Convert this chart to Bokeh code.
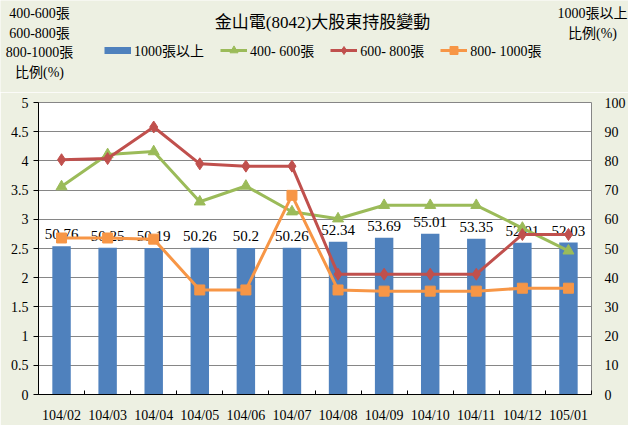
from bokeh.plotting import figure
from bokeh.models import (Range1d, LinearAxis, FixedTicker, NumeralTickFormatter,
                          Label, Legend, LegendItem)
from bokeh.core.properties import value
from bokeh.embed import file_html
from bokeh.resources import INLINE

# ---- data ----
months = ["104/02", "104/03", "104/04", "104/05", "104/06", "104/07",
          "104/08", "104/09", "104/10", "104/11", "104/12", "105/01"]
pct_1000 = [50.76, 50.25, 50.19, 50.26, 50.2, 50.26, 52.34, 53.69, 55.01, 53.35, 52.01, 52.03]
pct_1000_labels = ["50.76", "50.25", "50.19", "50.26", "50.2", "50.26",
                   "52.34", "53.69", "55.01", "53.35", "52.01", "52.03"]
pct_400_600 = [3.56, 4.11, 4.16, 3.30, 3.57, 3.13, 3.01, 3.24, 3.24, 3.24, 2.85, 2.46]
pct_600_800 = [4.02, 4.04, 4.58, 3.95, 3.91, 3.91, 2.06, 2.06, 2.06, 2.06, 2.74, 2.74]
pct_800_1000 = [2.68, 2.68, 2.66, 1.79, 1.79, 3.41, 1.79, 1.77, 1.77, 1.77, 1.82, 1.82]
left_ticks = [0, 0.5, 1, 1.5, 2, 2.5, 3, 3.5, 4, 4.5, 5]
right_ticks = [0, 10, 20, 30, 40, 50, 60, 70, 80, 90, 100]
series_names = ["1000張以上", "400- 600張", "600- 800張", "800- 1000張"]
title_text = "金山電(8042)大股東持股變動"
left_title = ["400-600張", "600-800張", "800-1000張", "比例(%)"]
right_title = ["1000張以上", "比例(%)"]

FONT = "Liberation Serif, Noto Sans CJK TC"
BG = "#EDF0E2"
BLUE, GREEN, RED, ORANGE = "#4F81BD", "#9BBB59", "#C0504D", "#F79646"
W, HH, HM = 628, 92, 333
NAN = float("nan")

x = list(range(1, len(months) + 1))
bounds = [i + 0.5 for i in range(len(months) + 1)]

# ---------------- header (title, legend, axis titles) ----------------
h = figure(width=W, height=HH, output_backend="svg", toolbar_location=None,
           x_range=Range1d(0, W), y_range=Range1d(0, HH),
           x_axis_type=None, y_axis_type=None,
           min_border=0, min_border_left=0, min_border_right=0,
           min_border_top=0, min_border_bottom=0)
h.border_fill_color = BG
h.background_fill_color = BG
h.outline_line_color = None
h.grid.visible = False

h.add_layout(Label(x=322, y=HH - 22, text=title_text, text_align="center",
                   text_baseline="middle", text_font=FONT, text_font_size="17px",
                   text_color="black"))
for i, t in enumerate(left_title):
    h.add_layout(Label(x=39, y=HH - 13 - i * 19.6, text=t, text_align="center",
                       text_baseline="middle", text_font=FONT, text_font_size="14px",
                       text_color="black"))
for i, t in enumerate(right_title):
    h.add_layout(Label(x=592, y=HH - 13 - i * 19.6, text=t, text_align="center",
                       text_baseline="middle", text_font=FONT, text_font_size="14px",
                       text_color="black"))

# legend keys (renderers that draw nothing, styled like the series)
k_bar = h.line(x=[NAN], y=[NAN], line_width=7, line_color=BLUE, line_cap="butt")
k_gl = h.line(x=[NAN], y=[NAN], line_width=3, line_color=GREEN)
k_gs = h.scatter(x=[NAN], y=[NAN], marker="triangle", color=GREEN)
k_rl = h.line(x=[NAN], y=[NAN], line_width=3, line_color=RED)
k_rs = h.scatter(x=[NAN], y=[NAN], marker="diamond", color=RED)
k_ol = h.line(x=[NAN], y=[NAN], line_width=3, line_color=ORANGE)
k_os = h.scatter(x=[NAN], y=[NAN], marker="square", color=ORANGE)

legend = Legend(items=[
    LegendItem(label=series_names[0], renderers=[k_bar]),
    LegendItem(label=series_names[1], renderers=[k_gl, k_gs]),
    LegendItem(label=series_names[2], renderers=[k_rl, k_rs]),
    LegendItem(label=series_names[3], renderers=[k_ol, k_os]),
], orientation="horizontal", location=(104, HH - 50 - 10), glyph_width=27, glyph_height=20,
    label_standoff=3, spacing=16, padding=0, margin=0, border_line_color=None,
    background_fill_alpha=0, label_text_font=FONT, label_text_font_size="14px",
    label_text_color="black")
h.add_layout(legend)

# ---------------- main chart ----------------
p = figure(width=W, height=HM, output_backend="svg", toolbar_location=None,
           x_range=Range1d(0.5, len(months) + 0.5), y_range=Range1d(0, 5),
           min_border_left=38, min_border_right=28, min_border_top=10, min_border_bottom=27)
p.extra_y_ranges = {"right": Range1d(0, 100)}
p.border_fill_color = BG
p.background_fill_color = "white"
p.outline_line_color = "#868686"
p.xgrid.visible = False
p.ygrid.grid_line_color = "#868686"
p.ygrid.grid_line_width = 1

ya = p.yaxis[0]
ya.ticker = FixedTicker(ticks=left_ticks)
ya.formatter = NumeralTickFormatter(format="0.[0]")
ya.axis_line_color = "black"
ya.major_tick_line_color = "black"
ya.major_tick_out = 5
ya.major_tick_in = 0
ya.minor_tick_line_color = None
ya.major_label_standoff = 5
ya.major_label_text_font = FONT
ya.major_label_text_font_size = "14px"
ya.major_label_text_color = "black"

xa = p.xaxis[0]
xa.ticker = FixedTicker(ticks=x, minor_ticks=bounds)
xa.major_label_overrides = {i: m for i, m in zip(x, months)}
xa.major_tick_line_color = None
xa.minor_tick_line_color = "black"
xa.minor_tick_in = 4
xa.minor_tick_out = 0
xa.axis_line_color = "black"
xa.major_label_standoff = 7
xa.major_label_text_font = FONT
xa.major_label_text_font_size = "14px"
xa.major_label_text_color = "black"

ra = LinearAxis(y_range_name="right", ticker=FixedTicker(ticks=right_ticks))
ra.axis_line_color = None
ra.major_tick_line_color = None
ra.minor_tick_line_color = None
ra.major_label_standoff = 7
ra.major_label_text_font = FONT
ra.major_label_text_font_size = "14px"
ra.major_label_text_color = "black"
p.add_layout(ra, "right")

p.vbar(x=x, top=pct_1000, width=0.4, y_range_name="right", fill_color=BLUE, line_color=None)
p.text(x=x, y=pct_1000, text=pct_1000_labels, y_range_name="right", text_align="center",
       text_baseline="bottom", y_offset=-7, text_font=value(FONT), text_font_size="15px",
       text_color="black")

p.line(x, pct_400_600, line_width=3, color=GREEN)
p.scatter(x, pct_400_600, marker="triangle", size=11, color=GREEN)
p.line(x, pct_600_800, line_width=3, color=RED)
p.scatter(x, pct_600_800, marker="diamond", size=12, color=RED)
p.line(x, pct_800_1000, line_width=3, color=ORANGE)
p.scatter(x, pct_800_1000, marker="square", size=10, color=ORANGE)

open("out.html", "w").write(file_html([h, p], INLINE))
